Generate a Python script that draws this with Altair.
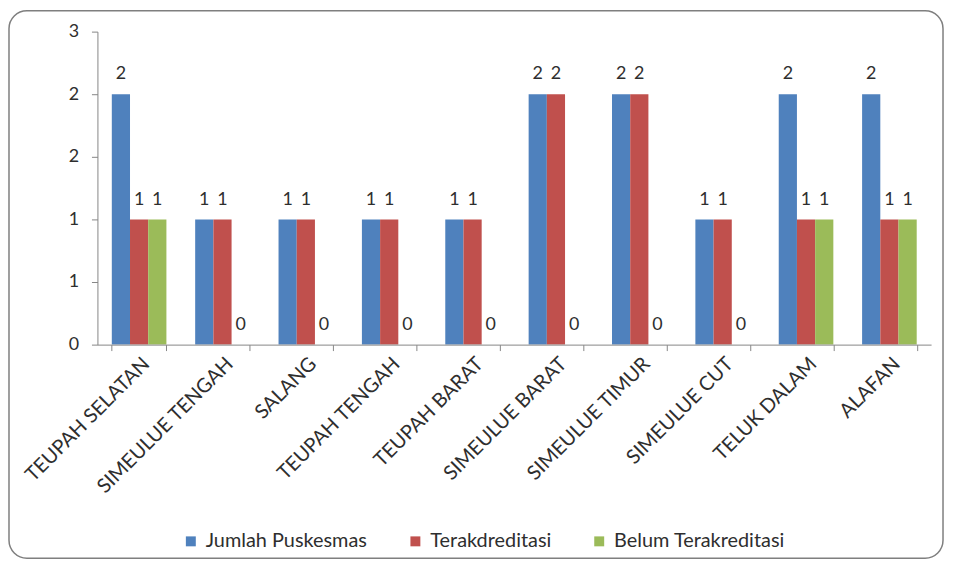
import altair as alt
import pandas as pd

categories = ["TEUPAH SELATAN", "SIMEULUE TENGAH", "SALANG", "TEUPAH TENGAH",
              "TEUPAH BARAT", "SIMEULUE BARAT", "SIMEULUE TIMUR", "SIMEULUE CUT",
              "TELUK DALAM", "ALAFAN"]
series = ["Jumlah Puskesmas", "Terakdreditasi", "Belum Terakreditasi"]
jumlah = [2, 1, 1, 1, 1, 2, 2, 1, 2, 2]
terakreditasi = [1, 1, 1, 1, 1, 2, 2, 1, 1, 1]
belum = [1, 0, 0, 0, 0, 0, 0, 0, 1, 1]
colors = ["#4F81BD", "#C0504D", "#9BBB59"]
ytick_values = [0, 0.5, 1, 1.5, 2, 2.5]
ytick_labels = ["0", "1", "1", "2", "2", "3"]

rows = []
for i, c in enumerate(categories):
    for s, vals in zip(series, [jumlah, terakreditasi, belum]):
        rows.append({"kategori": c, "seri": s, "nilai": vals[i]})
df = pd.DataFrame(rows)

FONT = "Lato"
TXT = "#2e2e2e"
W, H = 839, 315

label_expr = "[" + ",".join(f"'{l}'" for l in ytick_labels) + "][indexof([" + \
    ",".join(str(v) for v in ytick_values) + "], datum.value)]"

x_enc = alt.X("kategori:N", sort=categories,
              scale=alt.Scale(paddingInner=0.345, paddingOuter=0.1725),
              axis=alt.Axis(title=None, labelAngle=-45, labelFontSize=20, labelFont=FONT,
                            labelColor=TXT, tickBand="extent", tickSize=6,
                            domainColor="#868686", tickColor="#868686",
                            labelPadding=3, labelLimit=300, zindex=1))
y_enc = alt.Y("nilai:Q", scale=alt.Scale(domain=[0, 2.5], nice=False),
              axis=alt.Axis(title=None, values=ytick_values, labelExpr=label_expr,
                            grid=False, labelFontSize=18, labelFont=FONT, labelColor=TXT,
                            tickSize=6, domainColor="#868686", tickColor="#868686",
                            labelPadding=13, zindex=1))
xo = alt.XOffset("seri:N", sort=series, scale=alt.Scale(paddingInner=0, paddingOuter=0))

frame = alt.Chart(pd.DataFrame({"f": [0]})).mark_rect(
    cornerRadius=18, fill="white", stroke="#7f7f7f", strokeWidth=1.5
).encode(x=alt.value(-89), x2=alt.value(851), y=alt.value(-21), y2=alt.value(530))

bars = alt.Chart(df).mark_bar().encode(
    x=x_enc, y=y_enc, xOffset=xo,
    color=alt.Color("seri:N", sort=series,
                    scale=alt.Scale(domain=series, range=colors),
                    legend=alt.Legend(orient="none", legendX=84, legendY=503,
                                      direction="horizontal", title=None,
                                      symbolType="square", symbolSize=100,
                                      symbolStrokeWidth=0, labelFontSize=20,
                                      labelFont=FONT, labelColor=TXT,
                                      columnPadding=38, labelOffset=5, labelLimit=300))
)

labels = alt.Chart(df).mark_text(
    baseline="alphabetic", dy=-15, fontSize=18, font=FONT, color=TXT
).encode(x=alt.X("kategori:N", sort=categories), y="nilai:Q", xOffset=xo,
         text=alt.Text("nilai:Q", format="d"))

chart = alt.layer(frame, bars, labels).properties(
    width=W, height=H,
    autosize=alt.AutoSizeParams(type="none"),
    padding={"left": 90, "top": 22, "right": 14, "bottom": 216},
).configure_view(stroke=None).configure(background="white")

chart.save("out.html", embed_options={"renderer": "svg", "actions": False})
